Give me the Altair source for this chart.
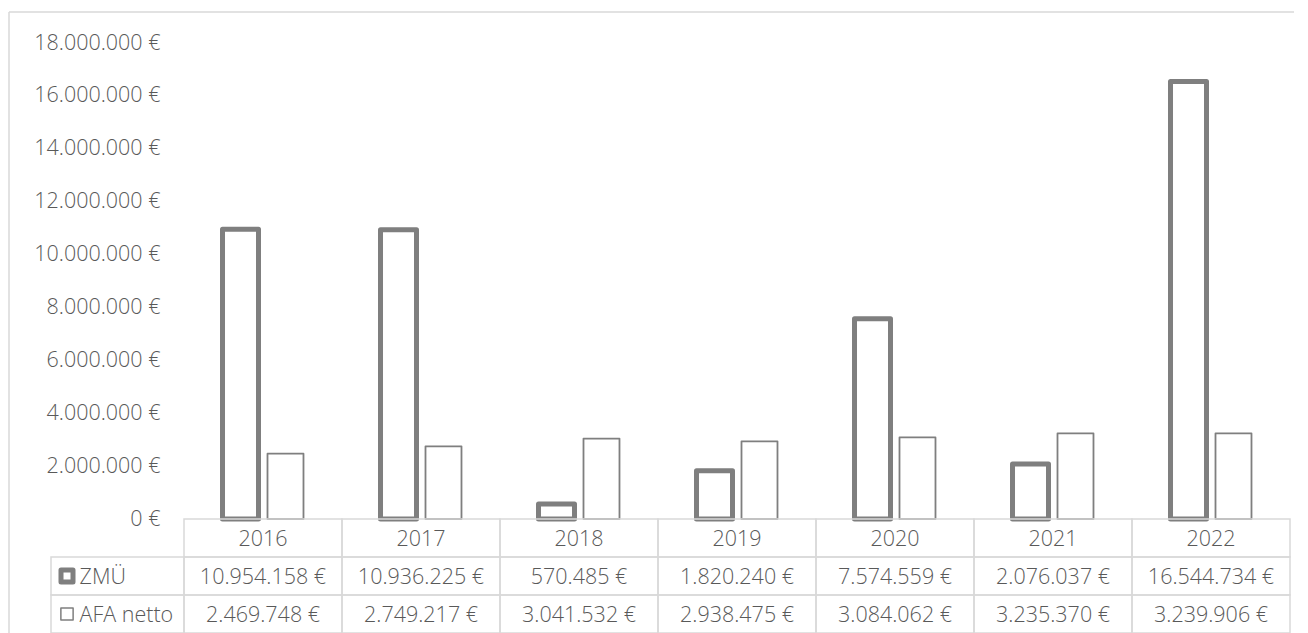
import altair as alt
import pandas as pd

years = ["2016", "2017", "2018", "2019", "2020", "2021", "2022"]
zmu = [10954158, 10936225, 570485, 1820240, 7574559, 2076037, 16544734]
afa = [2469748, 2749217, 3041532, 2938475, 3084062, 3235370, 3239906]
series = ["ZMÜ", "AFA netto"]
row_order = ["Jahr", "ZMÜ", "AFA netto"]
y_ticks = [0, 2000000, 4000000, 6000000, 8000000, 10000000, 12000000, 14000000, 16000000, 18000000]


def eur(v):
    return f"{v:,}".replace(",", ".") + " €"


rows = []
for i, yr in enumerate(years):
    rows.append({"year": yr, "series": "ZMÜ", "value": zmu[i]})
    rows.append({"year": yr, "series": "AFA netto", "value": afa[i]})
df = pd.DataFrame(rows)

tab = []
for i, yr in enumerate(years):
    tab.append({"year": yr, "row": "Jahr", "text": yr})
    tab.append({"year": yr, "row": "ZMÜ", "text": eur(zmu[i])})
    tab.append({"year": yr, "row": "AFA netto", "text": eur(afa[i])})
tdf = pd.DataFrame(tab)
ldf = pd.DataFrame({"row": series})

GRAY = "#7f7f7f"
TEXT = "#595959"
LINE = "#d9d9d9"
FONT = "Open Sans"
FS = 21.5
W = 1106
H = 476

xscale = alt.Scale(paddingInner=0, paddingOuter=0)

bars = alt.Chart(df).mark_bar(fill="white", stroke=GRAY, strokeJoin="round").encode(
    x=alt.X("year:N", sort=years, axis=None, scale=xscale),
    xOffset=alt.XOffset("series:N", sort=series,
                        scale=alt.Scale(domain=series, paddingInner=0.2, paddingOuter=0.856)),
    y=alt.Y("value:Q", scale=alt.Scale(domain=[0, 18000000], nice=False),
            axis=alt.Axis(values=y_ticks, title=None, domain=False, ticks=False, grid=False,
                          labelFontSize=FS, labelColor=TEXT, labelFont=FONT, labelFontWeight=300,
                          labelPadding=24,
                          labelExpr="replace(format(datum.value, ',d'), regexp(',', 'g'), '.') + ' €'")),
    strokeWidth=alt.condition(alt.datum.series == "ZMÜ", alt.value(5), alt.value(1.8)),
)

frame_top = alt.Chart(ldf.head(1)).mark_rule(stroke=LINE, strokeWidth=1.5).encode(
    x=alt.value(-175), x2=alt.value(W + 4), y=alt.value(-31))
frame_left = alt.Chart(ldf.head(1)).mark_rule(stroke=LINE, strokeWidth=1.5).encode(
    x=alt.value(-175), y=alt.value(-31), y2=alt.value(H + 120))

top = alt.layer(frame_top, frame_left, bars).properties(width=W, height=H)

ty = alt.Y("row:N", sort=row_order, scale=alt.Scale(paddingInner=0, paddingOuter=0),
           axis=alt.Axis(title=None, domain=False, ticks=False, labelAlign="left", labelPadding=105,
                         labelOffset=2,
                         labelFontSize=FS, labelColor=TEXT, labelFont=FONT, labelFontWeight=300,
                         labelExpr="datum.value == 'Jahr' ? '' : datum.value"))

tbase = alt.Chart(tdf).encode(x=alt.X("year:N", sort=years, axis=None, scale=xscale), y=ty)
cells = tbase.mark_rect(fillOpacity=0, stroke=LINE, strokeWidth=1.5)
texts = tbase.mark_text(fontSize=FS, color=TEXT, font=FONT, fontWeight=300, dy=2).encode(text="text:N")

lcells = alt.Chart(ldf).mark_rect(fillOpacity=0, stroke=LINE, strokeWidth=1.5).encode(
    y=alt.Y("row:N", sort=row_order), x=alt.value(-133), x2=alt.value(0))
symbols = alt.Chart(ldf).mark_point(shape="square", filled=False, color=GRAY, opacity=1,
                                    strokeJoin="round").encode(
    y=alt.Y("row:N", sort=row_order), x=alt.value(-117),
    size=alt.condition(alt.datum.row == "ZMÜ", alt.value(144), alt.value(150)),
    strokeWidth=alt.condition(alt.datum.row == "ZMÜ", alt.value(5), alt.value(1.5)))

table = alt.layer(cells, lcells, symbols, texts).properties(width=W, height=114)

chart = alt.vconcat(top, table, spacing=0, bounds="flush").configure(
    padding={"left": 0, "top": 3, "right": 0, "bottom": 0}
).configure_view(stroke=None)

chart.save("out.html", embed_options={"renderer": "svg", "actions": False})
